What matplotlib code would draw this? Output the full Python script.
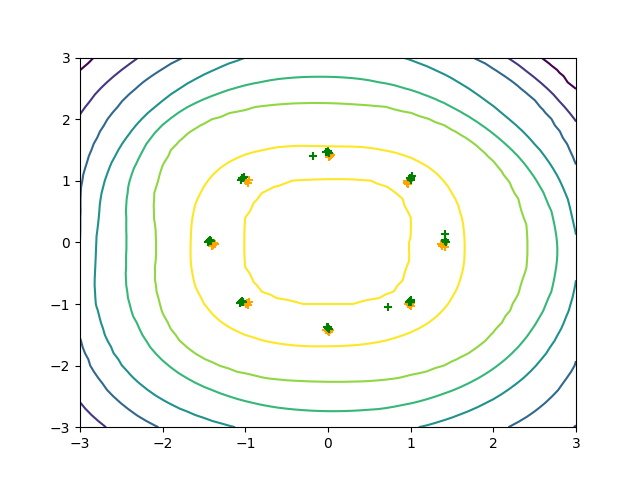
import numpy as np
import matplotlib
matplotlib.use("Agg")
import matplotlib.pyplot as plt

# ring radii, per direction: E, NE, N, NW, W, SW, S, SE
dir_deg = [0, 45, 90, 135, 180, 225, 270, 315]
ring_z = [6.6, 7.0, 7.5, 7.0, 6.0, 5.0, 4.0, 3.0, 2.0, 1.0, 0.0]
ring_r = [
    [0.0, 0.0, 0.0, 0.0, 0.0, 0.0, 0.0, 0.0],              # centre
    [0.97, 1.2, 1.05, 1.15, 1.02, 1.15, 0.98, 1.15],       # inner yellow
    [1.33, 1.45, 1.3, 1.45, 1.35, 1.5, 1.35, 1.45],        # ridge
    [1.63, 1.74, 1.52, 1.8, 1.65, 1.85, 1.67, 1.8],        # outer yellow
    [2.42, 2.4, 2.25, 2.5, 2.03, 2.45, 2.24, 2.5],         # light green
    [2.78, 2.65, 2.68, 2.8, 2.39, 2.8, 2.73, 2.88],        # green
    [3.0, 2.95, 3.25, 3.03, 2.76, 3.27, 3.15, 3.25],       # teal
    [3.08, 3.43, 3.6, 3.42, 2.93, 3.66, 3.55, 3.75],       # blue
    [3.4, 3.65, 3.9, 3.75, 3.3, 4.05, 4.0, 4.3],           # indigo
    [3.7, 3.9, 4.2, 4.12, 3.75, 4.6, 4.4, 4.6],            # dark purple
    [5.5, 5.5, 5.5, 5.5, 5.5, 5.5, 5.5, 5.5],
]
levels = [1, 2, 3, 4, 5, 6, 7]

# real samples (orange)
real_x = [-0.99, -0.96, -0.97, -1.00, 0.02, 0.04, 0.01, 0.03, 0.96, 0.95, 0.97, 0.98,
          1.38, 1.40, 1.37, 1.41, -1.39, -1.37, -1.40, -1.38, -0.98, -0.96, -0.99, -0.97,
          0.00, 0.02, -0.02, 0.01, 0.99, 1.00, 0.97, 1.01]
real_y = [0.99, 1.01, 0.97, 1.02, 1.40, 1.42, 1.38, 1.43, 0.97, 1.00, 0.95, 0.99,
          -0.06, -0.03, -0.02, -0.08, -0.04, -0.02, -0.06, -0.01, -0.98, -0.96, -1.00, -1.01,
          -1.44, -1.42, -1.43, -1.46, -1.01, -0.98, -1.00, -1.03]
# generated samples (green)
gen_x = [-1.04, -1.02, -1.05, -1.03, -0.01, 0.01, -0.03, 0.00, 1.01, 1.00, 1.02, 0.99,
         1.42, 1.41, 1.43, 1.42, -1.44, -1.43, -1.45, -1.42, -1.05, -1.04, -1.06, -1.03,
         0.00, -0.01, 0.01, 0.00, 0.99, 1.00, 0.98, 1.00, -0.18, 0.72]
gen_y = [1.04, 1.06, 1.02, 1.05, 1.47, 1.45, 1.46, 1.48, 1.05, 1.02, 1.07, 1.04,
         0.02, 0.04, 0.00, 0.13, 0.02, 0.04, 0.01, 0.03, -0.97, -0.95, -0.98, -0.96,
         -1.39, -1.37, -1.40, -1.38, -0.95, -0.93, -0.96, -0.97, 1.40, -1.05]

# ring radius for every whole degree, smoothed round the circle
deg = np.arange(360)
R = np.array([np.interp(deg, dir_deg, row, period=360) for row in ring_r])
win = np.ones(21) / 21
R = np.array([np.convolve(np.r_[row[-10:], row, row[:10]], win, "valid") for row in R])

xs = np.linspace(-3, 3, 61)
X, Y = np.meshgrid(xs, xs)
r = np.hypot(X, Y)
idx = np.round(np.degrees(np.arctan2(Y, X))).astype(int) % 360
Rp = R[:, idx]
Z = np.zeros_like(r)
for k in range(len(ring_z) - 1):
    lo, hi = Rp[k], Rp[k + 1]
    m = (r >= lo) & (r < hi)
    Z[m] = ring_z[k] + (r[m] - lo[m]) / (hi[m] - lo[m]) * (ring_z[k + 1] - ring_z[k])

fig, ax = plt.subplots(figsize=(6.4, 4.8), dpi=100)
ax.contour(X, Y, Z, levels=levels, cmap="viridis")
ax.scatter(real_x, real_y, marker="+", color="orange")
ax.scatter(gen_x, gen_y, marker="+", color="green")
ax.set_xlim(-3, 3)
ax.set_ylim(-3, 3)
fig.savefig("out.png")
